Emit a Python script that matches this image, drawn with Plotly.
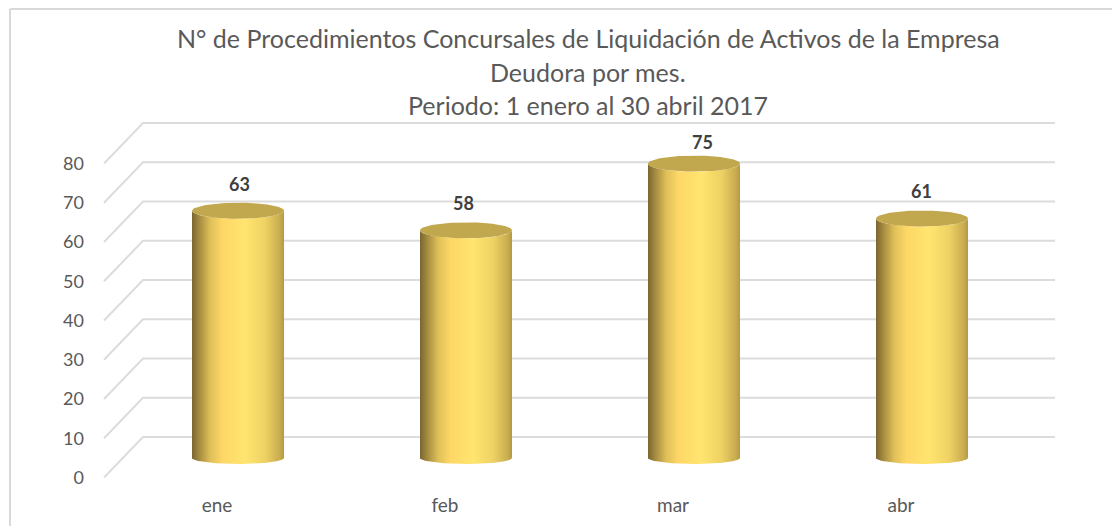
import numpy as np
import plotly.graph_objects as go

months = ["ene", "feb", "mar", "abr"]
values = [63, 58, 75, 61]
y_ticks = [0, 10, 20, 30, 40, 50, 60, 70, 80]
title_lines = ["N° de Procedimientos Concursales de Liquidación de Activos de la Empresa",
               "Deudora por mes.", "Periodo: 1 enero al 30 abril 2017"]
label_shift = [27, 27, 22, 28]
label_dx = [1, -3, 8, -1]

W, H = 1112, 526
ML, MB = 95, 34
UX = 228.0   # px per category
UY = 3.925   # px per value unit
X0 = 238.0   # px of first category
Y0 = 477.5   # px of value 0 on the front plane

px_x = lambda px: (px - X0) / UX
dy_u = lambda px: px / UY

x_range = [px_x(ML), px_x(W)]
y_range = [(Y0 - (H - MB)) / UY, Y0 / UY]

BAR_DEPTH = dy_u(19.5)
WALL_DEPTH = dy_u(40.5)
RX = 46 / UX
RY_TOP = dy_u(8)
RY_BOT = dy_u(6)

fig = go.Figure()

# back wall and side wall grid lines
gx, gy = [], []
for t in y_ticks:
    gx += [px_x(104), px_x(143), px_x(1055), None]
    gy += [t, t + WALL_DEPTH, t + WALL_DEPTH, None]
fig.add_trace(go.Scatter(x=gx, y=gy, mode="lines", hoverinfo="skip",
                         line=dict(color="#dcdcdc", width=2)))

side_scale = [[0, "#7a6530"], [0.08, "#a58b40"], [0.2, "#dfc058"], [0.33, "#fed766"],
              [0.58, "#ffe56f"], [0.8, "#eed163"], [0.95, "#c9ad50"], [1, "#b59a45"]]

theta = np.linspace(0, np.pi, 60)
phi = np.linspace(0, 2 * np.pi, 100)
for i, v in enumerate(values):
    top = v + BAR_DEPTH
    xs = np.concatenate([i - RX * np.cos(theta), i + RX * np.cos(theta)])
    ys = np.concatenate([top - RY_TOP * np.sin(theta), BAR_DEPTH - RY_BOT * np.sin(theta[::-1])])
    fig.add_trace(go.Scatter(x=xs, y=ys, mode="lines", fill="toself", hoverinfo="skip",
                             line=dict(width=0),
                             fillgradient=dict(type="horizontal", colorscale=side_scale)))
    fig.add_trace(go.Scatter(x=i + RX * np.cos(phi), y=top + RY_TOP * np.sin(phi),
                             mode="lines", fill="toself", hoverinfo="skip",
                             line=dict(width=0), fillcolor="#c1a74d"))
    fig.add_annotation(x=i, y=top, text=f"<b>{v}</b>", showarrow=False, xshift=label_dx[i],
                       yshift=label_shift[i], font=dict(family="Lato", size=18, color="#404040"))

for k, line in enumerate(title_lines):
    fig.add_annotation(xref="paper", yref="paper", x=(588 - ML) / (W - ML), yanchor="middle",
                       y=1 - ([38, 72, 105][k]) / (H - MB), text=line, showarrow=False,
                       font=dict(family="Lato", size=25, color="#595959"))

fig.update_layout(
    width=W, height=H, showlegend=False, paper_bgcolor="white", plot_bgcolor="white",
    margin=dict(l=ML, r=0, t=0, b=MB, autoexpand=False),
    font=dict(family="Lato", color="#595959"),
    xaxis=dict(range=x_range, tickmode="array", tickvals=[i - 21 / UX for i in range(4)],
               ticktext=months, showgrid=False, zeroline=False, showline=False, ticks="",
               tickfont=dict(size=19, color="#595959")),
    yaxis=dict(range=y_range, tickmode="array", tickvals=y_ticks, showgrid=False, zeroline=False,
               showline=False, ticks="", ticklabelstandoff=10,
               tickfont=dict(size=18, color="#595959")),
    shapes=[
        dict(type="line", xref="paper", yref="paper", x0=(10 - ML) / (W - ML), x1=(10 - ML) / (W - ML),
             y0=1 - 9 / (H - MB), y1=-MB / (H - MB), line=dict(color="#d9d9d9", width=2)),
        dict(type="line", xref="paper", yref="paper", x0=(10 - ML) / (W - ML), x1=1,
             y0=1 - 9 / (H - MB), y1=1 - 9 / (H - MB), line=dict(color="#d9d9d9", width=2)),
    ],
)

fig.write_html("out.html", config=dict(displayModeBar=False),
               post_script="document.body.style.margin='0';")
